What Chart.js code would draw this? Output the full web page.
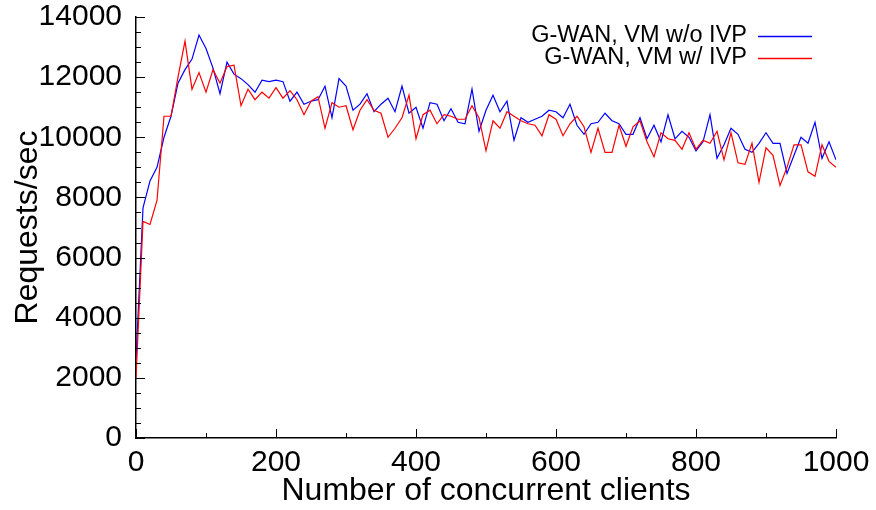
<!DOCTYPE html>
<html><head><meta charset="utf-8">
<script src="https://cdn.jsdelivr.net/npm/chart.js@4/dist/chart.umd.min.js"></script>
<style>html,body{margin:0;padding:0;background:#fff}</style>
</head><body>
<canvas id="c" width="876" height="510"></canvas>
<script>
const clients = [0,10,20,30,40,50,60,70,80,90,100,110,120,130,140,150,160,170,180,190,200,210,220,230,240,250,260,270,280,290,300,310,320,330,340,350,360,370,380,390,400,410,420,430,440,450,460,470,480,490,500,510,520,530,540,550,560,570,580,590,600,610,620,630,640,650,660,670,680,690,700,710,720,730,740,750,760,770,780,790,800,810,820,830,840,850,860,870,880,890,900,910,920,930,940,950,960,970,980,990,1000];
const withoutIVP = [2600,7650,8550,9000,10000,10700,11800,12250,12600,13400,12950,12300,11450,12500,12100,11950,11750,11500,11900,11850,11900,11850,11200,11500,11100,11200,11250,11700,10650,11950,11700,10900,11100,11450,10850,11100,11300,10850,11700,10800,11000,10300,11150,11100,10550,10950,10500,10450,11600,10200,10900,11400,10850,11200,9900,10650,10500,10600,10700,10900,10850,10650,11100,10400,10100,10450,10500,10800,10550,10450,10100,10100,10650,9950,10400,9850,10750,9950,10200,10000,9550,9850,10750,9300,9750,10300,10100,9600,9500,9800,10150,9800,9800,8800,9400,10000,9800,10500,9300,9850,9250];
const withIVP = [2000,7200,7100,7900,10700,10700,12000,13200,11600,12150,11500,12250,11800,12350,12400,11050,11600,11250,11500,11300,11650,11300,11550,11250,10750,11200,11350,10300,11150,11000,11050,10250,10900,11250,10900,10800,10000,10300,10650,11400,9950,10750,10900,10450,10750,10700,10600,10600,11050,10650,9550,10550,10300,10850,10700,10550,10450,10400,10050,10750,10600,10050,10450,10700,10350,9500,10300,9500,9500,10400,9700,10350,10550,9850,9350,10150,9950,9900,9600,10150,9600,9900,9800,10200,9250,10150,9150,9100,9800,8500,9650,9400,8400,9000,9750,9750,8850,8700,9750,9200,9000];
const seriesLabels = ['G-WAN, VM w/o IVP', 'G-WAN, VM w/ IVP'];
const yTickValues = [0,2000,4000,6000,8000,10000,12000,14000];
const xTickValues = [0,200,400,600,800,1000];
const yMinorStep = 500;
const xMinorStep = 100;

const FONT = "'Liberation Sans', Arial, Helvetica, sans-serif";

const innerTicks = {
  id: 'innerTicks',
  afterDatasetsDraw(chart) {
    const {ctx, chartArea: a, scales: {x, y}} = chart;
    ctx.save();
    ctx.strokeStyle = '#000';
    ctx.lineWidth = 1;
    ctx.beginPath();
    for (let v = y.min; v <= y.max; v += yMinorStep) {
      const py = Math.round(y.getPixelForValue(v)) + 0.5;
      const len = yTickValues.includes(v) ? 9 : 5;
      ctx.moveTo(a.left, py); ctx.lineTo(a.left + len, py);
    }
    for (let v = x.min; v <= x.max; v += xMinorStep) {
      const px = Math.round(x.getPixelForValue(v)) + 0.5;
      const len = xTickValues.includes(v) ? 9 : 5;
      ctx.moveTo(px, a.bottom); ctx.lineTo(px, a.bottom - len);
    }
    ctx.stroke();
    ctx.restore();
  }
};

const rightLegend = {
  id: 'rightLegend',
  afterDraw(chart) {
    const ctx = chart.ctx;
    ctx.save();
    ctx.font = '23.5px ' + FONT;
    ctx.textAlign = 'right';
    ctx.textBaseline = 'middle';
    chart.data.datasets.forEach((ds, i) => {
      const yy = 36 + i * 22;
      ctx.fillStyle = '#000';
      ctx.fillText(ds.label, 747, yy);
      ctx.strokeStyle = ds.borderColor;
      ctx.lineWidth = 1.3;
      ctx.beginPath();
      ctx.moveTo(758, yy + 0.5); ctx.lineTo(812, yy + 0.5);
      ctx.stroke();
    });
    ctx.restore();
  }
};

const plain = v => String(v);

new Chart(document.getElementById('c'), {
  type: 'line',
  data: {
    datasets: [
      { label: seriesLabels[0], data: clients.map((c, i) => ({x: c, y: withoutIVP[i]})),
        borderColor: '#0000ff', borderWidth: 1.2, pointRadius: 0, tension: 0, fill: false, order: 2 },
      { label: seriesLabels[1], data: clients.map((c, i) => ({x: c, y: withIVP[i]})),
        borderColor: '#ff0000', borderWidth: 1.2, pointRadius: 0, tension: 0, fill: false, order: 1 }
    ]
  },
  options: {
    responsive: false,
    animation: false,
    devicePixelRatio: 1,
    layout: { padding: { left: 0, right: 40, top: 17, bottom: 0 } },
    plugins: { legend: { display: false }, tooltip: { enabled: false } },
    scales: {
      x: {
        type: 'linear', min: 0, max: 1000,
        afterFit(s) { s.height = 72; },
        afterBuildTicks(s) { s.ticks = xTickValues.map(v => ({value: v})); },
        grid: { display: true, drawOnChartArea: false, drawTicks: true, tickLength: 10, tickColor: 'rgba(0,0,0,0)' },
        border: { display: true, color: '#000', width: 1.5 },
        ticks: { color: '#000', font: { family: FONT, size: 30, lineHeight: 1 }, padding: 0, maxRotation: 0, autoSkip: false, callback: plain },
        title: { display: true, text: 'Number of concurrent clients', color: '#000', font: { family: FONT, size: 32, lineHeight: 1.2 }, padding: 0 }
      },
      y: {
        type: 'linear', min: 0, max: 14000,
        afterFit(s) { s.width = 136; },
        afterBuildTicks(s) { s.ticks = yTickValues.map(v => ({value: v})); },
        grid: { display: true, drawOnChartArea: false, drawTicks: true, tickLength: 14, tickColor: 'rgba(0,0,0,0)' },
        border: { display: true, color: '#000', width: 1.5 },
        ticks: { color: '#000', font: { family: FONT, size: 30, lineHeight: 1 }, padding: 0, autoSkip: false, callback: plain },
        title: { display: true, text: 'Requests/sec', color: '#000', font: { family: FONT, size: 32, lineHeight: 1.2 }, padding: { top: 9, bottom: 0 } }
      }
    }
  },
  plugins: [innerTicks, rightLegend]
});
</script>
</body></html>
